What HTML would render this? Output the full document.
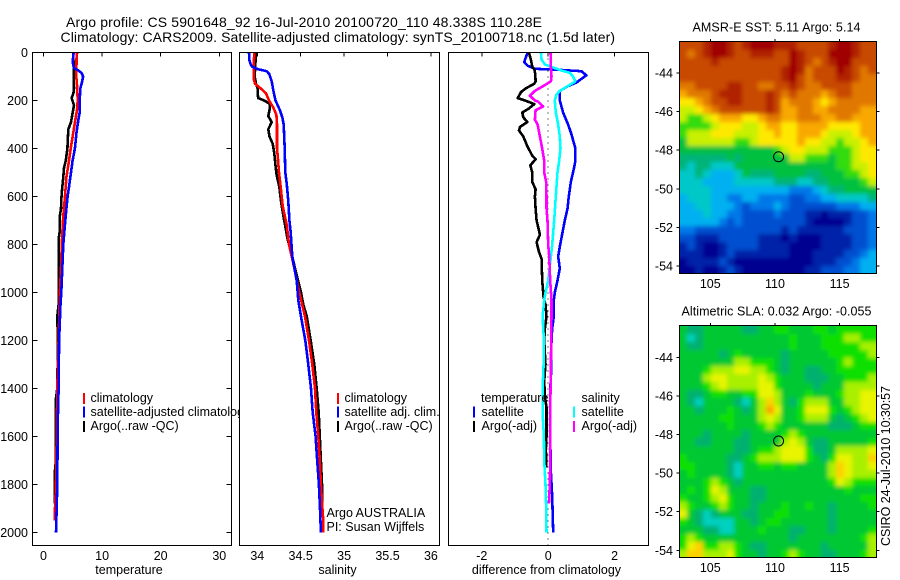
<!DOCTYPE html>
<html lang="en">
<head>
<meta charset="utf-8">
<title>Argo profile CS 5901648_92</title>
<style>
html,body{margin:0;padding:0;background:#fff;width:900px;height:580px;overflow:hidden}
svg{display:block;position:absolute;left:0;top:0}
text{font-family:"Liberation Sans",Arial,sans-serif;fill:#000;font-size:12.5px}
.ttl{font-size:14px}
.sm{font-size:12.5px}
</style>
</head>
<body>
<svg id="fig" xmlns="http://www.w3.org/2000/svg" width="900" height="580" viewBox="0 0 900 580">
<defs>
<filter id="soften" x="-5%" y="-5%" width="110%" height="110%"><feGaussianBlur stdDeviation="2.2"></feGaussianBlur></filter>
<clipPath id="clip-sst-map"><rect x="680" y="42" width="196" height="231"></rect></clipPath>
<clipPath id="clip-sla-map"><rect x="680" y="326" width="196" height="231"></rect></clipPath>
</defs>
<rect x="0" y="0" width="900" height="580" fill="#fff"></rect>
<text class="ttl" x="66" y="27" textLength="476">Argo profile: CS 5901648_92 16-Jul-2010 20100720_110 48.338S 110.28E</text>
<text class="ttl" x="60.5" y="42" textLength="554.5">Climatology: CARS2009. Satellite-adjusted climatology: synTS_20100718.nc (1.5d later)</text>
<g id="plots"></g>
<text class="sm" x="692.5" y="31.5" textLength="168">AMSR-E SST: 5.11  Argo: 5.14</text>
<text class="sm" x="681.5" y="315.5" textLength="190">Altimetric SLA: 0.032  Argo: -0.055</text>
<text class="sm" transform="translate(890,546) rotate(-90)" x="0" y="0" textLength="160">CSIRO 24-Jul-2010 10:30:57</text>
</svg>
<script>
// ---------- temperature profile data ----------
const tempArgoDepth = [0,150,170,190,220,250,290,320,400,450,480,520,560,600,650,680,740,780,900,1000,1050,1100,1200,1400,1440,1700,1740,1880];
const tempArgoValue = [5.09,5.2,5.1,4.8,5.2,4.98,4.7,4.24,4.07,3.8,3.5,3.38,3.2,3.08,2.98,2.8,2.8,2.58,2.58,2.64,2.58,2.36,2.45,2.36,2.13,2.13,1.96,1.96];
const tempClimDepth = [0,10,100,150,200,240,300,400,470,520,600,680,780,900,1000,1200,1400,1600,1800,1900,1950];
const tempClimValue = [5.77,5.65,5.6,5.77,5.83,5.72,5.3,4.64,4.24,3.9,3.67,3.38,3.15,2.98,2.8,2.58,2.36,2.25,2.13,1.96,1.96];
const tempSatDepth = [0,40,65,72,85,100,125,150,200,250,280,330,400,450,500,560,600,650,700,750,800,900,1000,1050,1200,1400,1550,1800,2000];
const tempSatValue = [5.15,4.97,5.2,5.77,6.5,6.75,6.56,6.28,6.17,6.17,5.95,5.65,5.36,4.97,4.69,4.35,4.12,3.9,3.72,3.55,3.38,3.2,3.03,2.9,2.67,2.58,2.42,2.36,2.13];
// ---------- salinity profile data ----------
const salArgoDepth = [0,100,130,150,170,190,200,215,240,265,290,320,350,380,420,470,510,560,620,680,720,780,850,900,950,1000,1050,1100,1200,1300,1400,1500,1600,1700,1800,1880];
const salArgoValue = [33.985,33.97,33.985,34.005,34.005,34.01,34.08,34.146,34.14,34.127,34.166,34.127,34.14,34.177,34.196,34.21,34.222,34.253,34.273,34.3,34.32,34.35,34.403,34.434,34.47,34.503,34.53,34.57,34.615,34.657,34.684,34.707,34.72,34.733,34.745,34.75];
const salClimDepth = [0,50,110,130,150,170,200,230,260,300,400,430,500,550,640,720,800,850,900,1000,1100,1200,1300,1400,1500,1600,1700,1800,1900,1950,2000];
const salClimValue = [33.965,33.958,33.958,33.973,34.04,34.1,34.135,34.185,34.22,34.227,34.227,34.235,34.25,34.266,34.293,34.34,34.365,34.396,34.427,34.484,34.55,34.596,34.634,34.665,34.68,34.703,34.72,34.733,34.75,34.76,34.76];
const salSatDepth = [0,30,50,60,70,78,90,120,160,200,240,270,300,400,500,550,620,700,750,850,900,950,1000,1033,1100,1200,1300,1400,1500,1600,1700,1800,1900,2000];
const salSatValue = [33.904,33.908,33.924,33.943,34.012,34.108,34.138,34.166,34.185,34.21,34.26,34.288,34.304,34.316,34.323,34.34,34.357,34.37,34.385,34.403,34.427,34.454,34.465,34.472,34.503,34.553,34.587,34.619,34.638,34.672,34.69,34.71,34.722,34.733];
// ---------- difference-from-climatology data ----------
const diffTempArgoDepth = [0,30,60,70,90,120,130,150,165,190,200,215,235,250,270,290,310,325,350,390,430,445,470,500,540,570,600,650,700,740,760,790,830,860,950,1020,1050,1100,1150,1200,1300,1370,1430,1480,1600,1650,1730];
const diffTempArgoValue = [-0.58,-0.52,-0.48,-0.42,-0.39,-0.38,-0.42,-0.68,-0.82,-0.92,-0.7,-0.42,-0.6,-0.78,-0.75,-0.63,-0.85,-0.88,-0.75,-0.63,-0.48,-0.38,-0.54,-0.48,-0.48,-0.38,-0.4,-0.38,-0.35,-0.28,-0.25,-0.35,-0.28,-0.2,-0.18,-0.14,-0.08,-0.05,-0.1,-0.12,-0.08,-0.12,-0.1,-0.05,-0.05,-0.07,-0.06];
const diffTempSatDepth = [0,30,40,55,68,72,78,95,110,125,140,160,200,250,300,340,400,450,480,540,600,650,700,750,800,850,900,950,1000,1033,1100,1150,1200,1360,1400,1600,1750,1850,2000];
const diffTempSatValue = [-0.62,-0.7,-0.72,-0.62,-0.4,0.3,1.0,1.15,1.0,0.85,0.6,0.35,0.35,0.45,0.6,0.7,0.82,0.82,0.78,0.68,0.62,0.58,0.5,0.43,0.36,0.3,0.35,0.28,0.2,0.17,0.17,0.12,0.1,0.08,0.06,0.06,0.08,0.12,0.15];
const diffSalSatDepth = [0,30,50,60,75,85,100,120,135,160,175,200,250,300,350,400,450,500,600,700,800,850,900,950,1000,1033,1100,1200,1300,1400,1500,1600,1700,1800,1900,2000];
const diffSalSatValue = [-0.22,-0.2,-0.1,0.1,0.4,0.65,0.75,0.82,0.65,0.35,0.25,0.2,0.23,0.3,0.35,0.37,0.33,0.28,0.23,0.18,0.12,0.08,0.04,0,-0.08,-0.12,-0.17,-0.13,-0.14,-0.17,-0.17,-0.13,-0.12,-0.08,-0.06,-0.05];
const diffSalArgoDepth = [0,60,100,120,140,160,180,200,205,225,240,280,300,350,400,450,500,540,600,650,700,800,850,950,1033,1100,1300,1500,1700,1800,1880];
const diffSalArgoValue = [0.07,0.08,0.1,0.08,-0.15,-0.4,-0.55,-0.4,-0.3,-0.15,-0.38,-0.4,-0.32,-0.25,-0.18,-0.12,-0.12,-0.06,-0.05,-0.05,-0.02,0,0.03,0.06,0.1,0.1,0.08,0.06,0.06,0.05,0.02];
// ---------- axis tick labels ----------
const depthTicks = [0,200,400,600,800,1000,1200,1400,1600,1800,2000];
const tempTicks = [0,10,20,30];
const salTicks = [34,34.5,35,35.5,36];
const salTickLabels = ['34','34.5','35','35.5','36'];
const diffTicks = [-2,0,2];
const lonTicks = [105,110,115];
const latTicks = [-44,-46,-48,-50,-52,-54];
// ---------- map data (colour class per grid cell, north to south) ----------
const sstCells = [
[13,13,13,14,15,15,14,13,14,15,15,15,14,14,14,13,13,13,13,14,15,15,14,13,13],
[13,12,13,14,15,15,14,13,13,14,14,14,13,13,15,14,13,13,13,15,15,15,14,13,13],
[13,13,13,13,14,13,13,13,13,13,13,13,13,13,15,14,13,12,13,14,15,15,13,13,13],
[13,13,13,13,13,13,13,13,13,13,13,13,13,14,15,14,12,13,13,13,15,14,13,12,13],
[13,13,13,13,13,13,13,13,13,13,13,13,13,14,15,13,12,13,13,13,14,14,13,12,12],
[12,12,13,13,13,13,14,14,13,13,12,12,13,13,14,13,12,12,13,13,13,13,12,12,12],
[11,12,12,12,13,14,14,14,13,13,13,14,13,12,13,12,12,12,11,12,13,13,12,12,12],
[10,10,11,12,13,13,14,14,13,13,13,14,13,11,12,12,12,11,10,11,12,12,12,12,12],
[9,9,10,11,12,13,13,13,13,13,13,14,13,11,11,12,12,11,11,12,12,12,12,11,11],
[9,8,8,9,10,11,11,11,10,10,11,12,12,11,11,12,12,12,11,11,12,12,11,11,11],
[8,8,8,8,9,10,10,10,9,9,10,11,11,10,10,11,11,11,11,10,10,10,10,11,11],
[8,9,9,9,10,10,10,9,9,9,10,10,11,10,10,11,11,11,10,9,9,9,10,11,11],
[7,9,9,9,9,9,9,8,8,9,10,10,10,10,10,11,10,10,9,9,8,9,9,10,11],
[7,7,7,7,7,7,7,7,7,7,7,7,8,9,10,10,9,9,9,8,8,8,9,10,10],
[6,6,6,6,6,6,7,6,7,7,7,7,7,7,9,9,8,8,8,7,8,8,9,10,10],
[6,5,6,6,5,5,5,7,7,7,7,7,7,7,7,7,7,7,7,7,8,8,9,9,10],
[5,5,6,5,4,4,4,5,7,6,6,6,7,7,7,7,6,6,7,7,7,8,8,9,10],
[5,5,5,4,4,4,4,5,5,5,5,5,6,6,6,5,5,6,6,7,7,7,7,8,9],
[5,5,5,5,4,4,4,4,4,4,4,4,4,4,3,3,3,4,5,6,6,7,7,7,7],
[4,5,5,5,4,4,3,3,4,4,3,3,3,3,2,2,3,3,4,4,5,5,5,5,6],
[4,4,5,5,4,4,4,3,2,3,3,3,4,3,2,2,2,2,2,2,3,3,3,4,4],
[4,4,4,5,4,4,3,3,2,2,2,2,3,2,2,2,1,1,0,1,1,1,2,2,3],
[4,4,4,4,4,3,2,3,2,2,2,2,2,2,2,2,1,0,0,0,0,1,2,2,3],
[3,3,2,2,2,2,2,2,2,2,2,2,2,1,2,1,1,1,1,1,1,2,2,2,3],
[2,2,1,1,1,2,2,2,2,2,1,1,1,0,1,0,0,0,1,1,1,1,2,2,3],
[1,2,1,0,0,1,2,2,2,2,1,1,1,1,0,0,0,0,1,1,1,1,2,2,3],
[1,1,1,0,0,1,2,1,1,1,1,1,1,1,0,0,0,1,1,1,1,2,2,3,4],
[0,1,1,1,1,2,1,0,0,0,0,0,0,0,0,0,0,1,1,1,2,2,3,4,4],
[0,0,1,0,0,1,2,1,0,0,0,0,0,0,0,0,1,1,2,2,2,3,3,4,4]
];
const slaCells = [
[7,6,6,7,7,7,7,7,6,6,7,7,8,8,7,7,7,8,8,7,8,8,8,8,8],
[7,5,6,7,7,7,7,7,7,7,7,7,7,7,8,7,7,7,8,8,8,9,9,8,8],
[7,6,6,7,7,7,7,7,7,7,7,7,7,7,8,7,7,7,8,8,8,8,8,9,9],
[7,7,7,7,7,6,7,8,7,7,7,7,7,6,7,7,7,7,7,8,8,8,8,8,9],
[7,7,7,7,7,7,7,9,9,8,8,8,7,6,7,7,7,7,7,7,8,9,8,8,8],
[7,7,7,8,9,9,9,10,10,9,9,8,7,6,7,7,6,6,7,7,8,8,8,8,8],
[7,7,7,9,10,10,9,9,9,9,10,9,8,7,7,7,6,6,6,7,7,8,8,8,9],
[7,7,7,8,9,10,9,9,9,9,10,10,8,7,7,7,7,6,7,7,7,9,9,9,9],
[7,6,6,7,8,8,7,7,8,8,10,10,9,7,7,7,8,7,7,7,8,9,9,10,10],
[7,6,5,7,7,7,7,6,5,7,9,11,9,7,6,8,9,9,9,7,7,9,9,10,10],
[7,7,6,7,7,7,8,7,6,7,9,12,10,7,7,8,10,10,10,8,7,8,9,10,10],
[7,7,7,7,7,8,8,7,7,7,9,10,9,7,7,8,9,9,9,7,6,7,8,9,10],
[7,7,7,7,7,7,8,7,7,7,8,9,8,7,7,7,7,7,7,6,6,6,7,8,8],
[7,7,7,6,7,7,7,7,6,7,7,7,7,8,9,8,7,7,7,7,7,7,7,7,7],
[7,7,6,6,7,7,7,6,6,7,7,7,7,9,10,9,7,6,6,7,7,7,7,7,8],
[7,7,7,7,7,7,7,6,6,7,8,8,9,10,10,10,8,6,6,7,9,9,9,9,10],
[8,7,7,7,7,7,6,6,7,8,9,9,9,10,10,10,8,7,6,8,10,10,9,9,11],
[8,8,7,7,7,7,6,5,7,7,8,8,7,8,8,7,7,7,7,9,11,10,9,9,10],
[7,8,7,7,7,7,6,5,7,7,7,7,7,7,7,7,7,7,7,9,11,10,9,9,9],
[7,7,7,8,9,8,7,6,7,7,7,7,7,7,7,7,7,7,7,8,10,9,8,8,8],
[7,8,7,8,10,9,7,7,7,6,6,7,7,7,7,7,7,7,7,7,7,8,7,7,7],
[8,7,7,8,9,10,8,7,7,6,6,7,7,7,7,7,7,7,7,7,7,7,7,8,8],
[9,8,7,7,8,9,8,7,7,6,7,7,7,8,7,7,8,7,7,6,7,7,7,7,8],
[10,7,6,5,6,7,7,7,6,6,7,7,8,8,7,7,7,7,7,6,7,7,7,7,7],
[8,7,6,5,5,5,5,7,7,6,7,8,8,7,7,7,7,7,7,6,7,7,7,7,7],
[7,7,7,6,6,5,5,7,7,7,8,7,7,7,6,6,7,7,7,6,7,7,7,7,8],
[8,9,8,7,7,7,7,7,7,7,7,7,7,7,6,7,7,7,7,7,7,7,7,8,9],
[8,10,11,8,8,9,9,8,7,6,6,7,7,7,7,7,7,7,6,7,7,7,7,7,9],
[9,11,11,9,9,9,10,8,7,7,6,7,7,8,9,8,7,7,6,6,7,7,7,8,9]
];
const mapLongitude = [110.28];
const mapLatitude = [-48.338];

const sstRamp = ['#000090','#0020a8','#0050d0','#0078e8','#00b0f0','#00c8c8','#00b478','#00c040','#30dc10','#c8f000','#ffe800','#f8a800','#e07800','#c84800','#b02000','#a00000'];
const slaRamp = ['#000090','#0020a8','#0050d0','#0078e8','#00b0f0','#00d0c0','#00b070','#00c832','#10e000','#a8f000','#e8f400','#ffd000','#ffa000','#c84800','#b02000','#a00000'];

const NS = 'http://www.w3.org/2000/svg';
const plots = document.getElementById('plots');

function make(tag, attrs, parent, txt) {
  const el = document.createElementNS(NS, tag);
  for (const k in attrs) el.setAttribute(k, attrs[k]);
  if (txt !== undefined) el.textContent = txt;
  (parent || plots).appendChild(el);
  return el;
}
function label(str, x, y, anchor, name, parent) {
  const el = make('text', {x: x, y: y, 'text-anchor': anchor || 'start'}, parent, str);
  
  
  return el;
}
function tickLine(x1, y1, x2, y2, name) {
  const el = make('line', {x1: x1, y1: y1, x2: x2, y2: y2, stroke: '#000', 'stroke-width': 1, 'shape-rendering': 'crispEdges'});
  
  
  return el;
}
function frame(x, y, w, h, fill, name) {
  const el = make('rect', {x: x, y: y, width: w, height: h, fill: fill, stroke: fill === 'none' ? '#000' : 'none', 'stroke-width': 1, 'shape-rendering': 'crispEdges'});
  
  
  return el;
}

// Depth axis shared by the three profile panels
const yDepth = d => 52.5 + d * 0.24;
// Panel value axes
const xTemp = v => 43.5 + v * 5.86;
const xSal = v => 257.3 + (v - 34) * 86.8;
const xDiff = v => 548.2 + v * 33.2;

function series(depths, values, xFn, colour, name) {
  const pts = depths.map((d, i) => xFn(values[i]).toFixed(1) + ',' + yDepth(d).toFixed(1)).join(' ');
  const el = make('polyline', {points: pts, fill: 'none', stroke: colour, 'stroke-width': 2.6, 'stroke-linejoin': 'round', 'shape-rendering': 'crispEdges'});
  
  
}
function legendMark(x, y, colour, name) {
  const el = make('rect', {x: x, y: y, width: 2, height: 11, fill: colour, 'shape-rendering': 'crispEdges'});
  
  
}

const pTop = 52.5, pBottom = 545.5, pHeight = pBottom - pTop;

// ---------- Panel 1: temperature ----------
frame(32.5, pTop, 199, pHeight, '#fff', 'temperature-panel-background');
series(tempArgoDepth, tempArgoValue, xTemp, '#000', 'temperature-argo-line');
series(tempClimDepth, tempClimValue, xTemp, '#ff0000', 'temperature-climatology-line');
series(tempSatDepth, tempSatValue, xTemp, '#0000ff', 'temperature-satellite-line');
frame(32.5, pTop, 199, pHeight, 'none', 'temperature-panel-frame');
depthTicks.forEach(d => {
  tickLine(32.5, yDepth(d), 37.5, yDepth(d), 'temperature-y-tick-left');
  tickLine(226.5, yDepth(d), 231.5, yDepth(d), 'temperature-y-tick-right');
  label(String(d), 28, yDepth(d) + 4.5, 'end', 'depth-tick-label');
});
tempTicks.forEach(v => {
  tickLine(xTemp(v), pTop, xTemp(v), pTop + 4, 'temperature-x-tick');
  label(String(v), xTemp(v), 560, 'middle', 'temperature-tick-label');
});
label('temperature', 129, 574, 'middle', 'temperature-x-axis-title');
legendMark(83, 393, '#ff0000', 'legend-marker-climatology');
legendMark(83, 406.5, '#0000ff', 'legend-marker-satellite-adjusted');
legendMark(83, 421, '#000', 'legend-marker-argo');
label('climatology', 90.5, 402, 'start', 'legend-entry-climatology');
label('satellite-adjusted climatology', 90.5, 416, 'start', 'legend-entry-satellite-adjusted');
label('Argo(..raw -QC)', 90.5, 430, 'start', 'legend-entry-argo');

// ---------- Panel 2: salinity ----------
frame(239.5, pTop, 200, pHeight, '#fff', 'salinity-panel-background');
series(salArgoDepth, salArgoValue, xSal, '#000', 'salinity-argo-line');
series(salClimDepth, salClimValue, xSal, '#ff0000', 'salinity-climatology-line');
series(salSatDepth, salSatValue, xSal, '#0000ff', 'salinity-satellite-line');
frame(239.5, pTop, 200, pHeight, 'none', 'salinity-panel-frame');
salTicks.forEach((v, i) => {
  tickLine(xSal(v), pTop, xSal(v), pTop + 4, 'salinity-x-tick');
  label(salTickLabels[i], xSal(v), 560, 'middle', 'salinity-tick-label');
});
label('salinity', 337.5, 574, 'middle', 'salinity-x-axis-title');
legendMark(337, 393, '#ff0000', 'legend-marker-salinity-climatology');
legendMark(337, 406.5, '#0000ff', 'legend-marker-salinity-satellite');
legendMark(337, 421, '#000', 'legend-marker-salinity-argo');
label('climatology', 344.5, 402, 'start', 'legend-entry-salinity-climatology');
label('satellite adj. clim.', 344.5, 416, 'start', 'legend-entry-salinity-satellite');
label('Argo(..raw -QC)', 344.5, 430, 'start', 'legend-entry-salinity-argo');
label('Argo AUSTRALIA', 326.5, 517, 'start', 'argo-country-note');
label('PI: Susan Wijffels', 326.5, 531, 'start', 'principal-investigator-note');

// ---------- Panel 3: differences ----------
frame(448.5, pTop, 200, pHeight, '#fff', 'difference-panel-background');
const zeroLine = make('line', {x1: xDiff(0), y1: pTop, x2: xDiff(0), y2: pBottom, stroke: '#000', 'stroke-width': 1, 'stroke-dasharray': '1 5', 'shape-rendering': 'crispEdges'});


series(diffTempSatDepth, diffTempSatValue, xDiff, '#0000ff', 'difference-temperature-satellite-line');
series(diffTempArgoDepth, diffTempArgoValue, xDiff, '#000', 'difference-temperature-argo-line');
series(diffSalSatDepth, diffSalSatValue, xDiff, '#00ffff', 'difference-salinity-satellite-line');
series(diffSalArgoDepth, diffSalArgoValue, xDiff, '#ff00ff', 'difference-salinity-argo-line');
frame(448.5, pTop, 200, pHeight, 'none', 'difference-panel-frame');
diffTicks.forEach(v => {
  tickLine(xDiff(v), pTop, xDiff(v), pTop + 4, 'difference-x-tick');
  label(v < 0 ? '-' + Math.abs(v) : String(v), xDiff(v), 560, 'middle', 'difference-tick-label');
});
label('difference from climatology', 546.5, 574, 'middle', 'difference-x-axis-title');
label('temperature', 481, 402, 'start', 'legend-heading-temperature');
label('satellite', 481.5, 416, 'start', 'legend-entry-temperature-satellite');
label('Argo(-adj)', 481.5, 430, 'start', 'legend-entry-temperature-argo');
label('salinity', 581.5, 402, 'start', 'legend-heading-salinity');
label('satellite', 581.5, 416, 'start', 'legend-entry-salinity-satellite-diff');
label('Argo(-adj)', 581.5, 430, 'start', 'legend-entry-salinity-argo-diff');
legendMark(473, 406.5, '#0000ff', 'legend-marker-temperature-satellite');
legendMark(473, 421, '#000', 'legend-marker-temperature-argo');
legendMark(573, 406.5, '#00ffff', 'legend-marker-salinity-satellite-diff');
legendMark(573, 421, '#ff00ff', 'legend-marker-salinity-argo-diff');

// ---------- Maps ----------
function drawMap(cells, ramp, top, bottom, latZero, prefix) {
  const left = 679.5, right = 876.5;
  const imgW = 196, imgH = bottom - top;
  const nRows = cells.length, nCols = cells[0].length;
  const cw = imgW / nCols, ch = imgH / nRows;
  const xLon = lon => 710.3 + (lon - 105) * 12.93;
  const yLat = lat => latZero + (-44 - lat) * 19.3;
  const clipWrap = make('g', {'clip-path': 'url(#clip-' + prefix + ')'});
  
  
  const cellLayer = make('g', {filter: 'url(#soften)'}, clipWrap);
  
  
  cells.forEach((row, r) => row.forEach((val, c) => {
    const bleed = 12;
    const x0 = Math.round(left + c * cw) - (c === 0 ? bleed : 0);
    const x1 = Math.round(left + (c + 1) * cw) + (c === nCols - 1 ? bleed : 0);
    const y0 = Math.round(top + r * ch) - (r === 0 ? bleed : 0);
    const y1 = Math.round(top + (r + 1) * ch) + (r === nRows - 1 ? bleed : 0);
    const cell = make('rect', {x: x0, y: y0, width: x1 - x0, height: y1 - y0, fill: ramp[val], 'shape-rendering': 'crispEdges'}, cellLayer);
    
    
  }));
  frame(left, top, right - left, imgH, 'none', prefix + '-frame');
  lonTicks.forEach(v => {
    tickLine(xLon(v), top - 2.5, xLon(v), top, prefix + '-x-tick');
    label(String(v), xLon(v), bottom + 14.5, 'middle', prefix + '-longitude-label');
  });
  latTicks.forEach(v => {
    tickLine(left - 3, yLat(v), left, yLat(v), prefix + '-y-tick-left');
    tickLine(right, yLat(v), right + 3, yLat(v), prefix + '-y-tick-right');
    label(String(v), 673, yLat(v) + 4.5, 'end', prefix + '-latitude-label');
  });
  const dot = make('circle', {cx: xLon(mapLongitude[0]), cy: yLat(mapLatitude[0]), r: 5, fill: 'none', stroke: '#000', 'stroke-width': 1});
  
  
}
drawMap(sstCells, sstRamp, 41.5, 273.5, 73, 'sst-map');
drawMap(slaCells, slaRamp, 325.5, 557.5, 357.3, 'sla-map');
</script>
</body>
</html>
